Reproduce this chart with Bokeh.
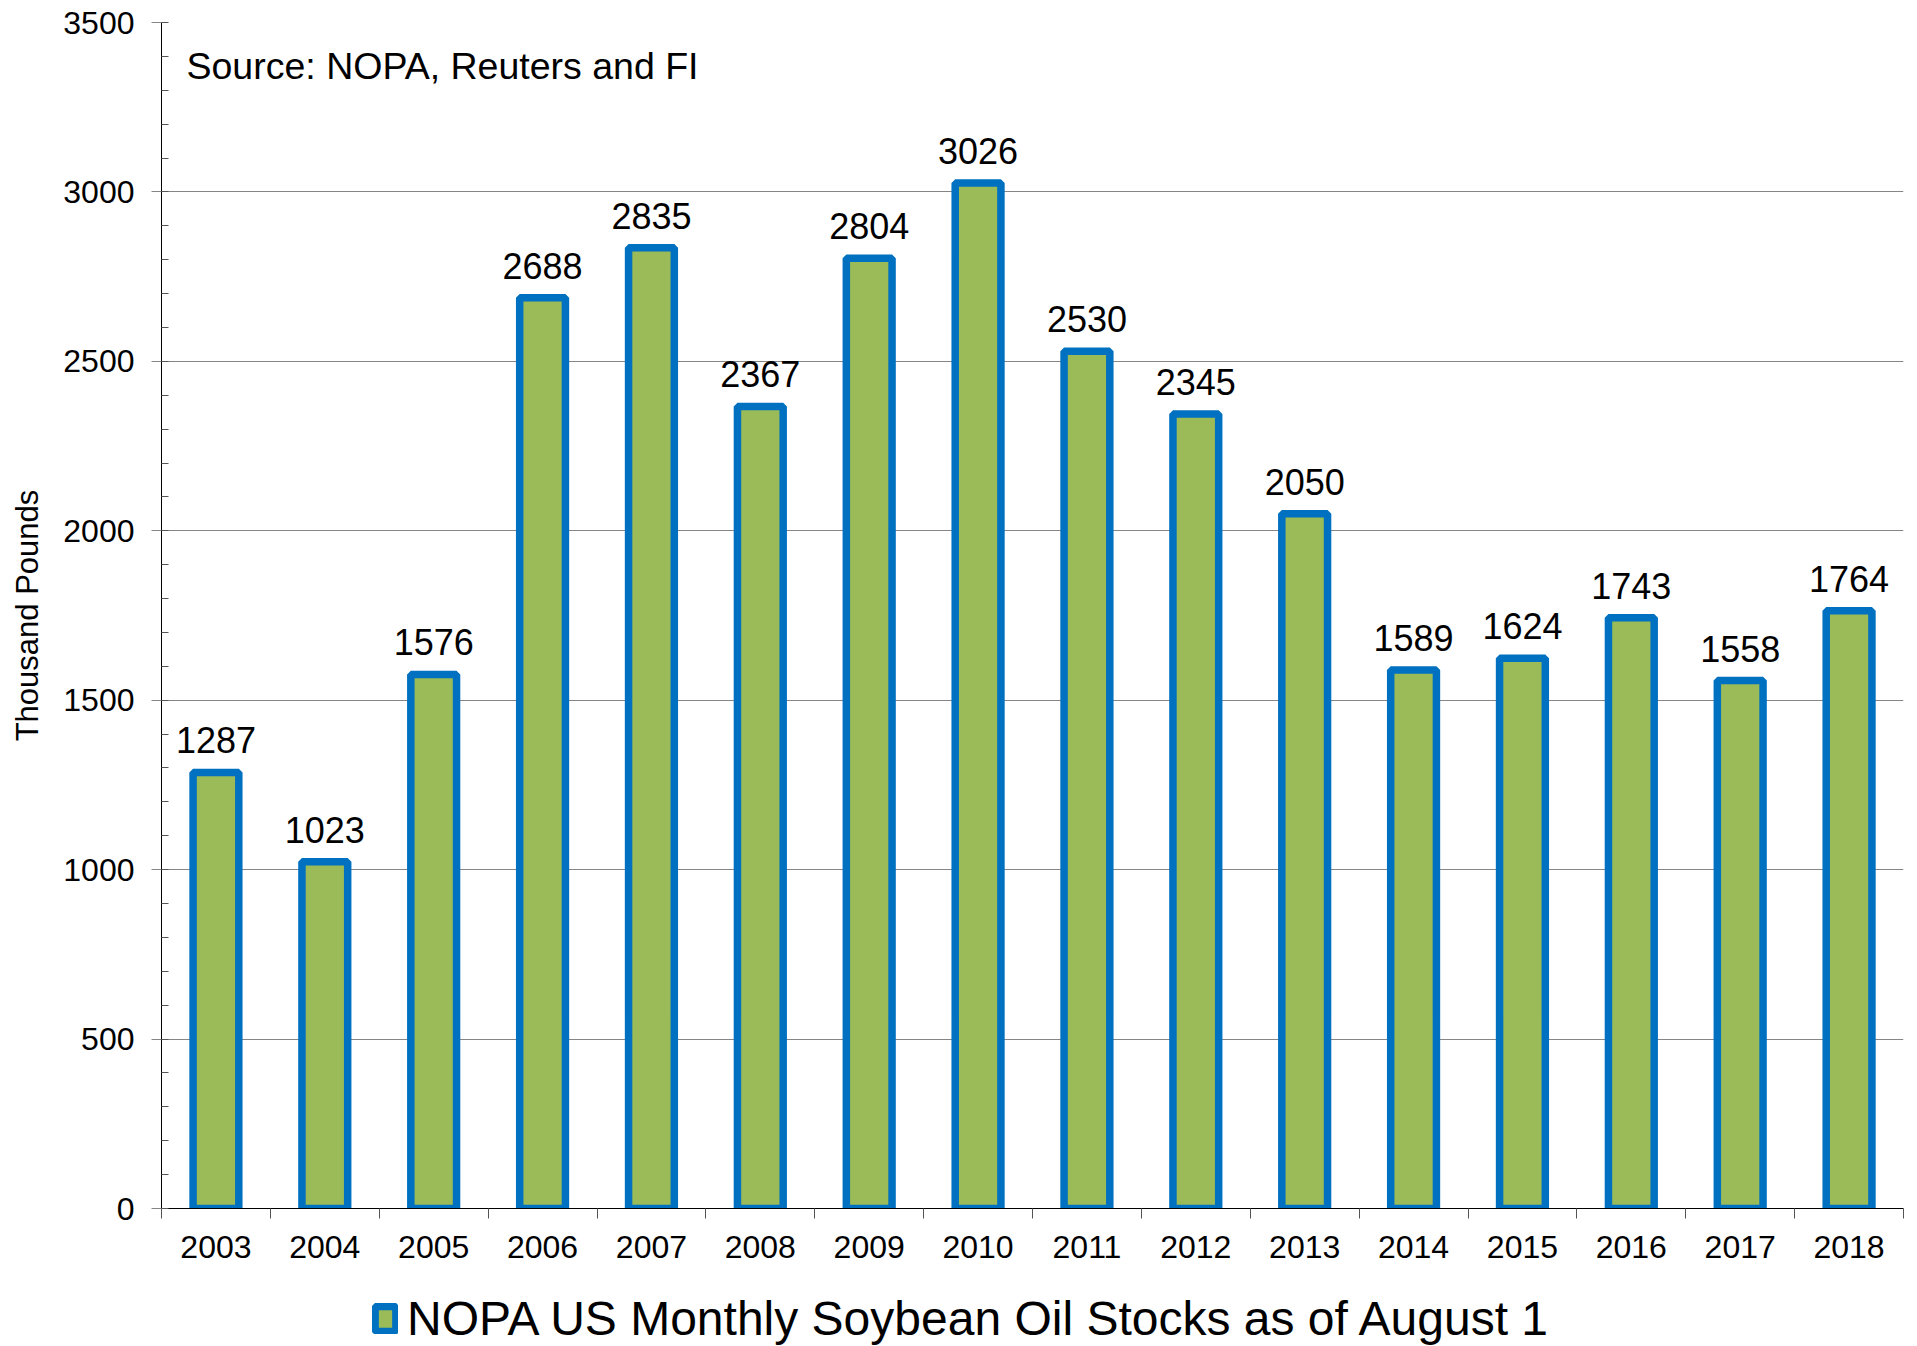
from bokeh.plotting import figure
from bokeh.layouts import column
from bokeh.models import (Range1d, FixedTicker, SingleIntervalTicker, Legend,
                          LegendItem, Label, ColumnDataSource)
from bokeh.core.properties import value
from bokeh.embed import file_html
from bokeh.resources import INLINE

years = [2003, 2004, 2005, 2006, 2007, 2008, 2009, 2010,
         2011, 2012, 2013, 2014, 2015, 2016, 2017, 2018]
stocks = [1287, 1023, 1576, 2688, 2835, 2367, 2804, 3026,
          2530, 2345, 2050, 1589, 1624, 1743, 1558, 1764]
labels = [str(v) for v in stocks]
series_name = "NOPA US Monthly Soybean Oil Stocks as of August 1"
source_note = "Source: NOPA, Reuters and FI"
y_title = "Thousand Pounds"

FONT = "Liberation Sans"
BLUE = "#0070C0"
GREEN = "#9BBB59"

src = ColumnDataSource(dict(x=years, y=stocks, lab=labels))

p = figure(width=1908, height=1290,
           x_range=Range1d(years[0] - 0.5, years[-1] + 0.5),
           y_range=Range1d(0, 3500),
           output_backend="svg", toolbar_location=None,
           min_border_left=161, min_border_right=5,
           min_border_top=22, min_border_bottom=82)
p.outline_line_color = None
p.background_fill_color = "white"
p.border_fill_color = "white"

bars = p.vbar(x="x", top="y", bottom=0, width=0.42, source=src,
              fill_color=GREEN, line_color=BLUE, line_width=7.5)

p.text(x="x", y="y", text="lab", source=src,
       text_font=value(FONT), text_font_size="36px", text_color="black",
       text_align="center", text_baseline="middle", y_offset=-32)

# y axis
yt = SingleIntervalTicker(interval=500, num_minor_ticks=5)
p.yaxis.ticker = yt
p.ygrid.ticker = yt
p.ygrid.grid_line_color = "#868686"
p.ygrid.grid_line_width = 1
p.xgrid.visible = False
p.yaxis.axis_line_color = "black"
p.yaxis.major_tick_out = 10
p.yaxis.major_tick_in = 0
p.yaxis.minor_tick_in = 7
p.yaxis.minor_tick_out = 0
p.yaxis.major_tick_line_color = "#868686"
p.yaxis.minor_tick_line_color = "#555555"
p.yaxis.major_label_text_font = FONT
p.yaxis.major_label_text_font_size = "32px"
p.yaxis.major_label_text_color = "black"
p.yaxis.major_label_standoff = 17
p.yaxis.axis_label = y_title
p.yaxis.axis_label_text_font = FONT
p.yaxis.axis_label_text_font_size = "31px"
p.yaxis.axis_label_text_font_style = "normal"
p.yaxis.axis_label_text_color = "black"
p.yaxis.axis_label_standoff = 15

# x axis
boundaries = [y - 0.5 for y in years] + [years[-1] + 0.5]
p.xaxis.ticker = FixedTicker(ticks=years, minor_ticks=boundaries)
p.xaxis.axis_line_color = "black"
p.xaxis.major_tick_out = 0
p.xaxis.major_tick_in = 0
p.xaxis.minor_tick_out = 10
p.xaxis.minor_tick_in = 0
p.xaxis.minor_tick_line_color = "#555555"
p.xaxis.major_label_text_font = FONT
p.xaxis.major_label_text_font_size = "32px"
p.xaxis.major_label_text_color = "black"
p.xaxis.major_label_standoff = 17

p.add_layout(Label(x=25, y=1143, x_units="screen", y_units="screen",
                   text=source_note, text_font=FONT, text_font_size="37.5px",
                   text_color="black", text_baseline="middle"))

# legend strip below the chart (frames of the column are aligned)
leg = figure(width=1908, height=56, x_range=Range1d(0, 1), y_range=Range1d(0, 1),
             output_backend="svg", toolbar_location=None,
             min_border_left=0, min_border_right=0,
             min_border_top=0, min_border_bottom=0)
leg.axis.visible = False
leg.grid.visible = False
leg.outline_line_color = None
swatch = leg.vbar(x="x", top="y", bottom=0, width=0.42, source=src,
                  fill_color=GREEN, line_color=BLUE, line_width=7.5,
                  visible=False)
legend = Legend(items=[LegendItem(label=series_name, renderers=[swatch], index=0)],
                location=(211, 0), orientation="horizontal",
                glyph_width=26, glyph_height=31, label_standoff=9,
                padding=0, margin=0, border_line_alpha=0,
                background_fill_alpha=0, inactive_fill_alpha=0,
                label_text_font=FONT, label_text_font_size="48px",
                label_text_color="black")
leg.add_layout(legend, "center")

layout = column(p, leg, spacing=0)
open("out.html", "w").write(file_html(layout, INLINE))
